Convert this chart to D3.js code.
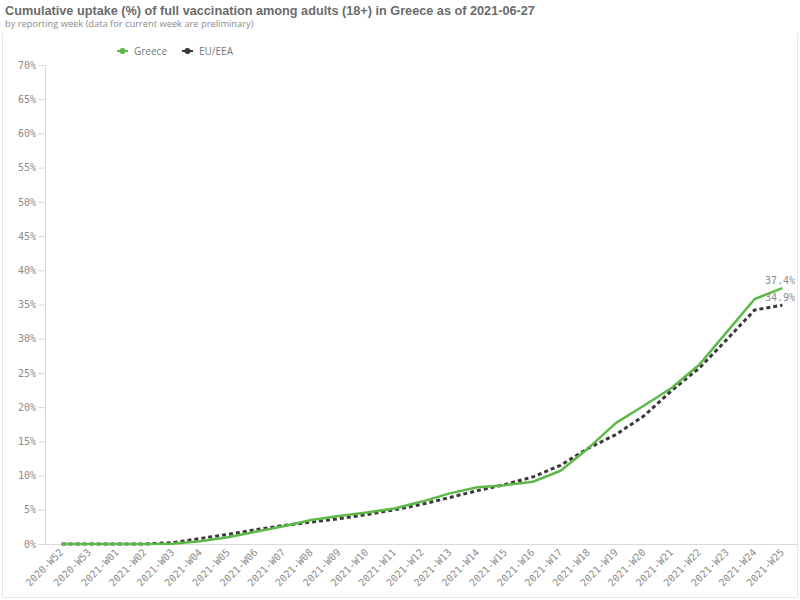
<!DOCTYPE html>
<html>
<head>
<meta charset="utf-8">
<script src="https://cdn.jsdelivr.net/npm/d3@7"></script>
<style>
  html, body { margin: 0; padding: 0; background: #fff; }
  svg { display: block; }
</style>
</head>
<body>
<svg id="chart" width="800" height="600"></svg>
<script>
const weeks = ["2020-W52","2020-W53","2021-W01","2021-W02","2021-W03","2021-W04","2021-W05","2021-W06","2021-W07","2021-W08","2021-W09","2021-W10","2021-W11","2021-W12","2021-W13","2021-W14","2021-W15","2021-W16","2021-W17","2021-W18","2021-W19","2021-W20","2021-W21","2021-W22","2021-W23","2021-W24","2021-W25"];
const greece = [0,0,0,0,0.05,0.4,1.0,1.8,2.6,3.5,4.1,4.6,5.2,6.2,7.4,8.3,8.6,9.1,10.7,14.0,17.7,20.2,22.8,26.2,31.0,35.8,37.4];
const euEea  = [0,0,0,0,0.2,0.8,1.4,2.1,2.7,3.2,3.7,4.3,5.0,5.8,6.8,7.8,8.7,9.8,11.5,14.0,16.0,18.7,22.4,25.7,29.9,34.2,34.9];
const yTicks = [0,5,10,15,20,25,30,35,40,45,50,55,60,65,70];
const seriesNames = ["Greece","EU/EEA"];
const seriesColors = ["#5dba47","#3a3a3a"];
const titleText = "Cumulative uptake (%) of full vaccination among adults (18+) in Greece as of 2021-06-27";
const subtitleText = "by reporting week (data for current week are preliminary)";

const svg = d3.select("#chart");
const monoFont = "'DejaVu Sans Mono', monospace";
const sansFont = "'Open Sans', 'Liberation Sans', Arial, sans-serif";

// frame
svg.append("path")
  .attr("d", "M2.5,33 L2.5,597.5 L797.5,597.5 L797.5,33")
  .attr("fill", "none").attr("stroke", "#e6e6e6").attr("stroke-width", 1);

svg.append("text").attr("x", 5).attr("y", 15)
  .attr("font-family", "'Liberation Sans', Arial, sans-serif")
  .attr("font-weight", "bold").attr("font-size", 12.7).attr("fill", "#6b6b6b")
  .text(titleText);
svg.append("text").attr("x", 5).attr("y", 27)
  .attr("font-family", sansFont).attr("font-size", 9.3).attr("fill", "#8a8a8a")
  .text(subtitleText);

const x = d3.scalePoint().domain(weeks).range([45, 799]).padding(0.6);
const y = d3.scaleLinear().domain([0, 70]).range([544, 65]);

// y axis
const yAxis = svg.append("g").attr("transform", "translate(45,0)")
  .call(d3.axisLeft(y).tickValues(yTicks).tickSize(7).tickPadding(2).tickFormat(d => d + "%"));
yAxis.select(".domain").attr("stroke", "#d9d9d9").attr("d", "M-7,65.5H0.5V544.5");
yAxis.selectAll(".tick line").attr("stroke", "#d9d9d9");
yAxis.selectAll(".tick text").attr("font-family", monoFont).attr("font-size", 10).attr("fill", "#8c8c8c");

// x axis
const xAxis = svg.append("g").attr("transform", "translate(0,544)")
  .call(d3.axisBottom(x).tickSize(0).tickPadding(0));
xAxis.select(".domain").attr("stroke", "#d9d9d9").attr("d", "M45,0.5H797");
xAxis.selectAll(".tick text")
  .attr("font-family", monoFont).attr("font-size", 10).attr("fill", "#8c8c8c")
  .attr("text-anchor", "end").attr("dy", null).attr("y", 0)
  .attr("transform", "translate(2,9) rotate(-45)");

// lines
const line = d3.line().x((d, i) => x(weeks[i])).y(d => y(d));
svg.append("path").datum(euEea).attr("d", line)
  .attr("fill", "none").attr("stroke", seriesColors[1]).attr("stroke-width", 3)
  .attr("stroke-dasharray", "4,3");
svg.append("path").datum(greece).attr("d", line)
  .attr("fill", "none").attr("stroke", seriesColors[0]).attr("stroke-width", 2.5)
  .attr("stroke-linejoin", "round");

// end labels
const last = weeks.length - 1;
svg.append("text").attr("x", 795).attr("y", y(greece[last]) - 4)
  .attr("text-anchor", "end").attr("font-family", monoFont).attr("font-size", 10).attr("fill", "#8c8c8c")
  .text(greece[last].toFixed(1) + "%");
svg.append("text").attr("x", 795).attr("y", y(euEea[last]) - 4)
  .attr("text-anchor", "end").attr("font-family", monoFont).attr("font-size", 10).attr("fill", "#8c8c8c")
  .text(euEea[last].toFixed(1) + "%");

// legend
const legendX = [117, 182];
seriesNames.forEach((name, i) => {
  const g = svg.append("g").attr("transform", `translate(${legendX[i]},51)`);
  g.append("line").attr("x1", 0).attr("x2", 11).attr("y1", 0).attr("y2", 0)
    .attr("stroke", seriesColors[i]).attr("stroke-width", 2);
  g.append("circle").attr("cx", 5.5).attr("cy", 0).attr("r", 3).attr("fill", seriesColors[i]);
  g.append("text").attr("x", 17).attr("y", 4)
    .attr("font-family", sansFont).attr("font-size", 10).attr("fill", "#777")
    .text(name);
});
</script>
</body>
</html>
